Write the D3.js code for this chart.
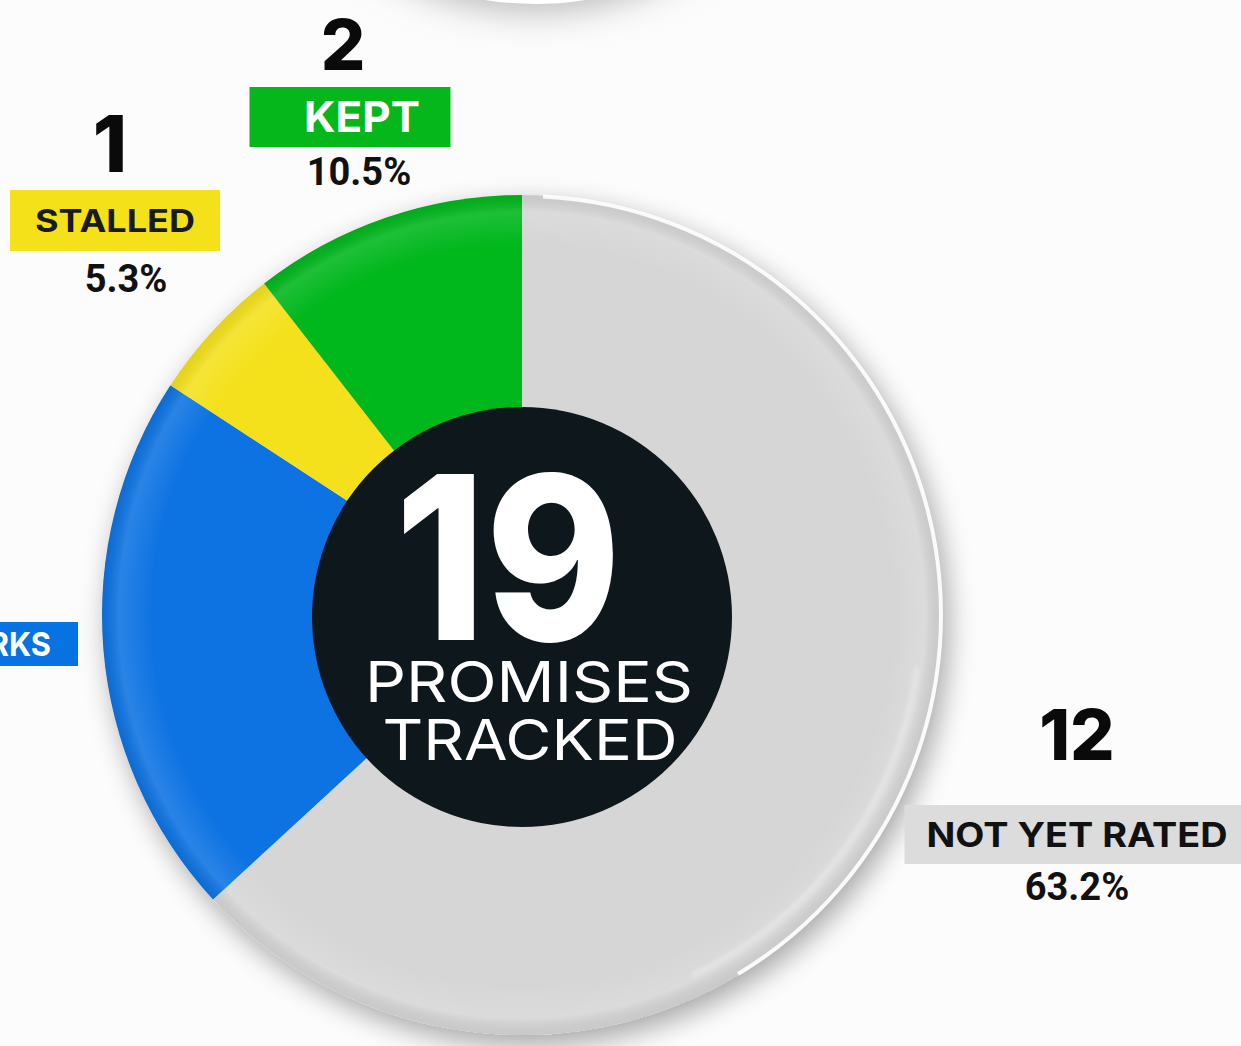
<!DOCTYPE html>
<html>
<head>
<meta charset="utf-8">
<script src="https://cdn.jsdelivr.net/npm/d3@7/dist/d3.min.js"></script>
<style>
  html, body { margin: 0; padding: 0; background: #fff; overflow: hidden; }
  svg { display: block; }
</style>
</head>
<body>
<svg></svg>
<script>
// data, in clockwise order starting at 12 o'clock
var categories = ["NOT YET RATED", "IN THE WORKS", "STALLED", "KEPT"];
var counts = [12, 4, 1, 2];
var colors = ["#d6d6d6", "#0773e2", "#f4e11a", "#05b71b"];
var textColors = ["#111", "#fff", "#1a1a1a", "#fff"];
var boxColors = ["#dcdcdc", "#0773e2", "#f4e11a", "#05b71b"];
var totalLabel = ["PROMISES", "TRACKED"];

// label layout (box centre x, box top y, box width, box height, label font size)
var labelLayout = [
  { cx: 1077, y: 805, w: 345, h: 59, fs: 34, tl: 301 },
  { cx: -62, y: 622, w: 280, h: 44, fs: 33, tl: 226 },
  { cx: 115, y: 190, w: 210, h: 61, fs: 31, tl: 160 },
  { cx: 350, y: 87, w: 201, h: 60, fs: 43, tl: 116, dx: 12 }
];

var width = 1241, height = 1046;
var cx = 522, cy = 615, R = 420, innerR = 210;

var svg = d3.select("svg")
    .attr("width", width)
    .attr("height", height);

var defs = svg.append("defs");

var shadow = defs.append("filter").attr("id", "shadow")
    .attr("x", "-20%").attr("y", "-20%").attr("width", "140%").attr("height", "140%");
shadow.append("feGaussianBlur").attr("in", "SourceAlpha").attr("stdDeviation", 14);
shadow.append("feOffset").attr("dx", 6).attr("dy", 10).attr("result", "blur");
shadow.append("feComponentTransfer").append("feFuncA").attr("type", "linear").attr("slope", 0.35);
var merge = shadow.append("feMerge");
merge.append("feMergeNode");
merge.append("feMergeNode").attr("in", "SourceGraphic");

var soft = defs.append("filter").attr("id", "soft")
    .attr("x", "-30%").attr("y", "-30%").attr("width", "160%").attr("height", "160%");
soft.append("feGaussianBlur").attr("stdDeviation", 18);

var rimBlur = defs.append("filter").attr("id", "rimblur");
rimBlur.append("feGaussianBlur").attr("stdDeviation", 2);

var shade = defs.append("radialGradient").attr("id", "shade")
    .attr("cx", "50%").attr("cy", "50%").attr("r", "50%");
shade.append("stop").attr("offset", "88%").attr("stop-color", "#fff").attr("stop-opacity", 0);
shade.append("stop").attr("offset", "96%").attr("stop-color", "#fff").attr("stop-opacity", 0.12);
shade.append("stop").attr("offset", "100%").attr("stop-color", "#000").attr("stop-opacity", 0.06);

// faint background discs
svg.append("rect").attr("width", width).attr("height", height).attr("fill", "#fdfcfc");
svg.append("ellipse").attr("cx", 535).attr("cy", -190).attr("rx", 250).attr("ry", 200)
    .attr("fill", "#b5b5b5").attr("filter", "url(#soft)");
svg.append("ellipse").attr("cx", 535).attr("cy", -196).attr("rx", 250).attr("ry", 200)
    .attr("fill", "#fff");

var g = svg.append("g").attr("transform", "translate(" + cx + "," + cy + ")");

var pie = d3.pie().sort(null).value(function(d) { return d; });
var arcs = pie(counts);
var arc = d3.arc().innerRadius(0).outerRadius(R);

var slices = g.append("g").attr("filter", "url(#shadow)");
slices.selectAll("path")
    .data(arcs)
    .enter().append("path")
    .attr("d", arc)
    .attr("fill", function(d, i) { return colors[i]; });

// subtle rim shading over the whole pie
g.append("circle").attr("r", R).attr("fill", "url(#shade)");

// white highlight on the right rim
g.append("path")
    .attr("d", d3.arc().innerRadius(R - 3).outerRadius(R + 1).startAngle(0.05).endAngle(2.6)())
    .attr("fill", "#fff").attr("opacity", 0.9);
g.append("path")
    .attr("d", d3.arc().innerRadius(R - 24).outerRadius(R - 19).startAngle(1.7).endAngle(2.7)())
    .attr("fill", "#fff").attr("opacity", 0.3).attr("filter", "url(#rimblur)");

// centre disc
g.append("circle").attr("cx", 0).attr("cy", 2).attr("r", innerR).attr("fill", "#0e171c");

var total = d3.sum(counts);
g.append("text")
    .attr("x", -14).attr("y", 25)
    .attr("text-anchor", "middle")
    .attr("font-family", "Inter, 'Noto Sans', sans-serif")
    .attr("font-weight", 800)
    .attr("font-size", 228)
    .attr("fill", "#fff")
    .attr("textLength", 226).attr("lengthAdjust", "spacingAndGlyphs")
    .text(total);

g.selectAll(".sub")
    .data(totalLabel)
    .enter().append("text")
    .attr("class", "sub")
    .attr("x", function(d, i) { return i === 0 ? 7 : 8; })
    .attr("y", function(d, i) { return 87 + i * 58; })
    .attr("text-anchor", "middle")
    .attr("font-family", "Inter, 'Noto Sans', sans-serif")
    .attr("font-weight", 400)
    .attr("font-size", 56)
    .attr("fill", "#fff")
    .attr("textLength", function(d, i) { return i === 0 ? 328 : 295; })
    .attr("lengthAdjust", "spacingAndGlyphs")
    .text(function(d) { return d; });

// category labels
var pct = d3.format(".1f");
var labels = svg.append("g").selectAll("g")
    .data(categories)
    .enter().append("g");

labels.append("rect")
    .attr("x", function(d, i) { return labelLayout[i].cx - labelLayout[i].w / 2; })
    .attr("y", function(d, i) { return labelLayout[i].y; })
    .attr("width", function(d, i) { return labelLayout[i].w; })
    .attr("height", function(d, i) { return labelLayout[i].h; })
    .attr("fill", function(d, i) { return boxColors[i]; });

labels.append("text")
    .attr("x", function(d, i) { return labelLayout[i].cx + (labelLayout[i].dx || 0); })
    .attr("y", function(d, i) { return labelLayout[i].y + labelLayout[i].h / 2 + labelLayout[i].fs * 0.36; })
    .attr("text-anchor", "middle")
    .attr("font-family", "Inter, 'Noto Sans', sans-serif")
    .attr("font-weight", 700)
    .attr("font-size", function(d, i) { return labelLayout[i].fs; })
    .attr("fill", function(d, i) { return textColors[i]; })
    .attr("textLength", function(d, i) { return labelLayout[i].tl; })
    .attr("lengthAdjust", "spacingAndGlyphs")
    .text(function(d) { return d; });

// count above box
labels.append("text")
    .attr("x", function(d, i) { return labelLayout[i].cx + (i === 3 ? -7 : (i === 2 ? -5 : 0)); })
    .attr("y", function(d, i) { return labelLayout[i].y - (i === 2 ? 18 : (i === 3 ? 17 : 45)); })
    .attr("text-anchor", "middle")
    .attr("font-family", "Inter, 'Noto Sans', sans-serif")
    .attr("font-weight", 800)
    .attr("font-size", function(d, i) { return i === 2 ? 78 : 70; })
    .attr("fill", "#0a0a0a")
    .text(function(d, i) { return counts[i]; });

// percent below box
labels.append("text")
    .attr("x", function(d, i) { return labelLayout[i].cx + (i === 3 ? 9 : (i === 2 ? 11 : 0)); })
    .attr("y", function(d, i) { return labelLayout[i].y + labelLayout[i].h + (i === 3 ? 38 : (i === 2 ? 41 : 36)); })
    .attr("text-anchor", "middle")
    .attr("font-family", "Roboto, 'Liberation Sans', sans-serif")
    .attr("font-weight", 700)
    .attr("font-size", 38)
    .attr("fill", "#111")
    .text(function(d, i) { return pct(counts[i] / total * 100) + "%"; });
</script>
</body>
</html>
